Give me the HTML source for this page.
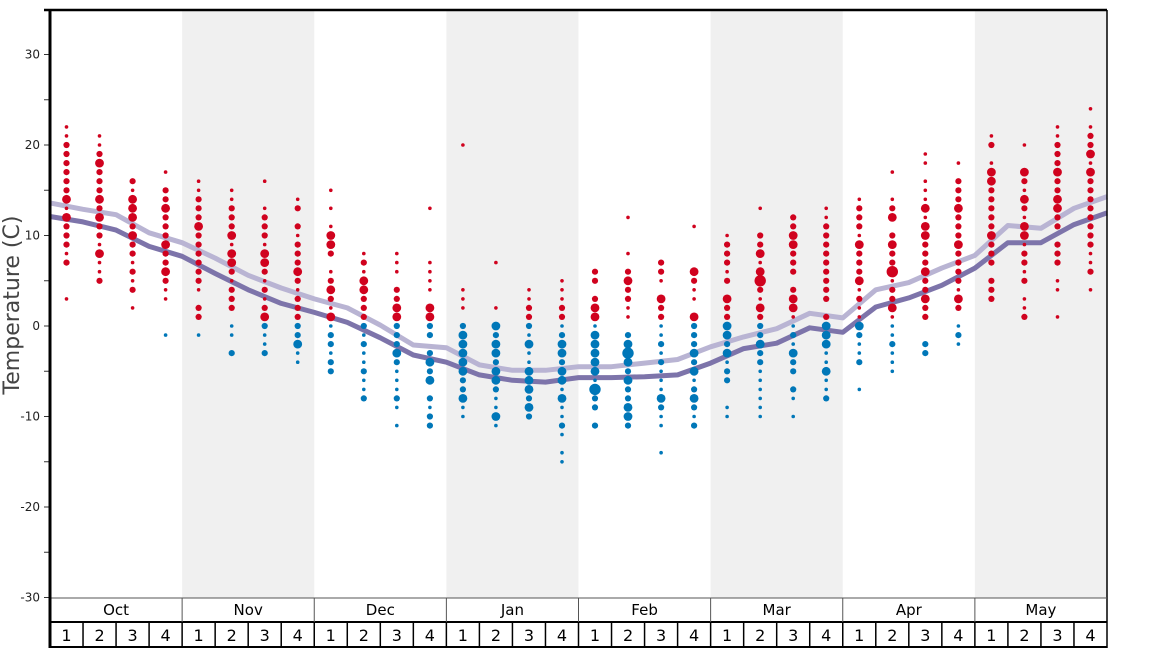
<!DOCTYPE html>
<html><head><meta charset="utf-8"><style>
html,body{margin:0;padding:0;background:#fff;}
svg{display:block;font-family:"DejaVu Sans","Liberation Sans",sans-serif;}
</style></head><body>
<svg id="chart" width="1168" height="648" viewBox="0 0 1168 648" xmlns="http://www.w3.org/2000/svg">
<g id="bands"></g><g id="lines"></g><g id="dots"></g><g id="axes"></g>
</svg>
<script>
const months = ["Oct","Nov","Dec","Jan","Feb","Mar","Apr","May"];
const yTicks = [30,20,10,0,-10,-20,-30];
const lineLow = [12.1,11.5,10.6,8.8,7.7,5.8,4.0,2.5,1.5,0.4,-1.3,-3.2,-4.0,-5.4,-6.0,-6.2,-5.7,-5.7,-5.6,-5.4,-4.1,-2.5,-1.9,-0.2,-0.7,2.1,3.1,4.5,6.4,9.2,9.2,11.2,12.5];
const lineHigh = [13.6,12.9,12.3,10.3,9.2,7.5,5.6,4.2,3.0,2.0,0.1,-2.1,-2.4,-4.3,-4.9,-4.9,-4.5,-4.5,-4.1,-3.7,-2.3,-1.2,-0.3,1.4,0.9,4.0,4.8,6.4,7.8,11.1,10.8,13.0,14.3];
const dotTemps = [
[22,21,20,19,18,17,16,15,14,13,12,11,10,9,8,7,3],
[21,20,19,18,17,16,15,14,13,12,11,10,9,8,7,6,5],
[16,15,14,13,12,11,10,9,8,7,6,5,4,2],
[17,15,14,13,12,11,10,9,8,7,6,5,4,3,-1],
[16,15,14,13,12,11,10,9,8,7,6,5,4,2,1,-1],
[15,14,13,12,11,10,9,8,7,6,5,4,3,2,0,-1,-3],
[16,13,12,11,10,9,8,7,6,5,4,3,2,1,0,-1,-2,-3],
[14,13,11,10,9,8,7,6,5,4,3,2,1,0,-1,-2,-3,-4],
[15,13,11,10,9,8,6,5,4,3,2,1,0,-1,-2,-3,-4,-5],
[8,7,6,5,4,3,2,1,0,-1,-2,-3,-4,-5,-6,-7,-8],
[8,7,6,4,3,2,1,0,-1,-2,-3,-4,-5,-6,-7,-8,-9,-11],
[13,7,6,5,4,2,1,0,-1,-3,-4,-5,-6,-8,-9,-10,-11],
[20,4,3,2,0,-1,-2,-3,-4,-5,-6,-7,-8,-9,-10],
[7,2,0,-1,-2,-3,-4,-5,-6,-7,-8,-9,-10,-11],
[4,3,2,1,0,-1,-2,-3,-4,-5,-6,-7,-8,-9,-10],
[5,4,3,2,1,0,-1,-2,-3,-4,-5,-6,-7,-8,-9,-10,-11,-12,-14,-15],
[6,5,3,2,1,0,-1,-2,-3,-4,-5,-6,-7,-8,-9,-11],
[12,8,6,5,4,3,2,1,-1,-2,-3,-4,-5,-6,-7,-8,-9,-10,-11],
[7,6,5,3,2,1,0,-1,-2,-3,-4,-5,-6,-7,-8,-9,-10,-11,-14],
[11,6,5,4,3,1,0,-1,-2,-3,-4,-5,-6,-7,-8,-9,-10,-11],
[10,9,8,7,6,5,3,2,1,0,-1,-2,-3,-4,-5,-6,-9,-10],
[13,10,9,8,7,6,5,4,3,2,1,0,-1,-2,-3,-4,-5,-6,-7,-8,-9,-10],
[12,11,10,9,8,7,6,4,3,2,1,0,-1,-2,-3,-4,-5,-7,-8,-10],
[13,12,11,10,9,8,7,6,5,4,3,1,0,-1,-2,-3,-4,-5,-6,-7,-8],
[14,13,12,11,10,9,8,7,6,5,4,3,2,1,0,-1,-2,-3,-4,-7],
[17,14,13,12,10,9,8,7,6,5,4,3,2,1,0,-1,-2,-3,-4,-5],
[19,18,16,15,14,13,12,11,10,9,8,7,6,5,4,3,2,1,-2,-3],
[18,16,15,14,13,12,11,10,9,8,7,6,5,4,3,2,0,-1,-2],
[21,20,18,17,16,15,14,13,12,11,10,9,8,7,5,4,3],
[20,17,16,15,14,13,12,11,10,9,8,7,6,5,3,2,1],
[22,21,20,19,18,17,16,15,14,13,12,11,9,8,7,5,4,1],
[24,22,21,20,19,18,17,16,15,14,13,12,11,10,9,8,7,6,4]
];
const dotSizes = [
"ssmmmmmmLsLmmmsms","ssmLmmmLmLmmsLssm","msLLLmLmmsmsms","smmLmmmLmmLmsss",
"ssmmmLmmmmmmsmms","ssmmmLsLLmsmmmssm","ssmmmsLLmsmsmLmssm","smmsmmmLmsmmmmmLss",
"sssLLmsmLmsLsmmsmm","smsLLmmmmsmssmssm","sssmmLLmmmLmsssmss","sssssLLmmmLmLmsmm",
"ssssmLLLLLmmLss","ssLmLLmLLmssLs","ssmmmsLssLLLmLm","sssmmsmLLmLLsLssmsss",
"mmmLLsLLLLLsXmmm","ssmLmmssmLXLmLmmLLm","mmsLmmssmsmsssLmsss","sLmssLmmmLmLsmLmsm",
"smmmsmLmmLLmLsmmss","smmLsLXmsLmmmLmmssssss","mmLLmmmmLLssmsLmmmss","ssmmmmmmmmmmLLLssLssm",
"smmmsLmmmLsmssLmssms","ssmLmLmmXsmmLsssmsss","sssssLsLLmmmLmmLmmmm","smmmLmmmLmmmmsLmsms",
"smsLLmmmmmLmmmmmm","sLmsLmsLLsmmsmssm","ssmmmLmmLLmmmmmsss","ssmmLsLmmmmmmmmssms"
];
const NS="http://www.w3.org/2000/svg";
const X0=50, X1=1107, nW=32, wW=(X1-X0)/nW;
const xEdge=i=>X0+i*wW;
const xWeek=i=>X0+(i+0.5)*wW;
const yS=t=>326-t*9.05;
const R={s:1.8,m:3.1,L:4.4,X:5.7};
function mk(tag,attrs,parent){const e=document.createElementNS(NS,tag);for(const k in attrs)e.setAttribute(k,attrs[k]);parent.appendChild(e);return e;}
const bands=document.getElementById('bands'),linesG=document.getElementById('lines'),dotsG=document.getElementById('dots'),axes=document.getElementById('axes');
months.forEach((m,i)=>{if(i%2===1){const r=mk('rect',{x:xEdge(i*4),y:10,width:wW*4,height:588,fill:'#f0f0f0'},bands);

}});
function drawLine(arr,color,name){const d=arr.map((v,i)=>(i?'L':'M')+xEdge(i).toFixed(1)+','+yS(v).toFixed(1)).join('');
const p=mk('path',{d:d,fill:'none',stroke:color,'stroke-width':5,'stroke-linejoin':'round'},linesG);

}
drawLine(lineHigh,'#b9b4d3','line-high');
drawLine(lineLow,'#7d74aa','line-low');
dotTemps.forEach((ts,w)=>{ts.forEach((t,j)=>{const c=mk('circle',{cx:xWeek(w).toFixed(1),cy:yS(t).toFixed(1),r:R[dotSizes[w][j]]||1.8,fill:t>0?'#d0021e':'#0077b8'},dotsG);

});});
// axes frame
mk('line',{x1:X1,y1:10,x2:X1,y2:648,stroke:'#000','stroke-width':1.5},axes);
mk('line',{x1:X0,y1:647,x2:X1,y2:647,stroke:'#000','stroke-width':2},axes);
mk('line',{x1:44,y1:10,x2:X1,y2:10,stroke:'#000','stroke-width':2.5},axes);
mk('line',{x1:X0,y1:598,x2:X1,y2:598,stroke:'#555','stroke-width':1},axes);
mk('line',{x1:X0,y1:622,x2:X1,y2:622,stroke:'#000','stroke-width':2},axes);
for(let t=-30;t<=30;t+=5){mk('line',{x1:X0-6,y1:yS(t),x2:X0,y2:yS(t),stroke:'#333','stroke-width':1},axes);}
mk('line',{x1:X0,y1:9,x2:X0,y2:648,stroke:'#000','stroke-width':3},axes);
yTicks.forEach(t=>{const tx=mk('text',{x:40,y:yS(t)+4,'text-anchor':'end','font-size':12,fill:'#222'},axes);tx.textContent=t;

});
const yt=mk('text',{x:0,y:0,transform:'translate(19,305) rotate(-90)','text-anchor':'middle','font-size':22,fill:'#444'},axes);yt.textContent='Temperature (C)';


months.forEach((m,i)=>{if(i>0)mk('line',{x1:xEdge(i*4),y1:598,x2:xEdge(i*4),y2:622,stroke:'#555','stroke-width':1},axes);
if(i>0)mk('line',{x1:xEdge(i*4),y1:622,x2:xEdge(i*4),y2:648,stroke:'#000','stroke-width':1.5},axes);
const tx=mk('text',{x:xEdge(i*4)+wW*2,y:615,'text-anchor':'middle','font-size':15,fill:'#000'},axes);tx.textContent=m;


for(let k=0;k<4;k++){const w=i*4+k;if(k>0)mk('line',{x1:xEdge(w),y1:622,x2:xEdge(w),y2:648,stroke:'#000','stroke-width':1.5},axes);
const wt=mk('text',{x:xWeek(w),y:641,'text-anchor':'middle','font-size':16,fill:'#000'},axes);wt.textContent=k+1;

}});
</script>
</body></html>
